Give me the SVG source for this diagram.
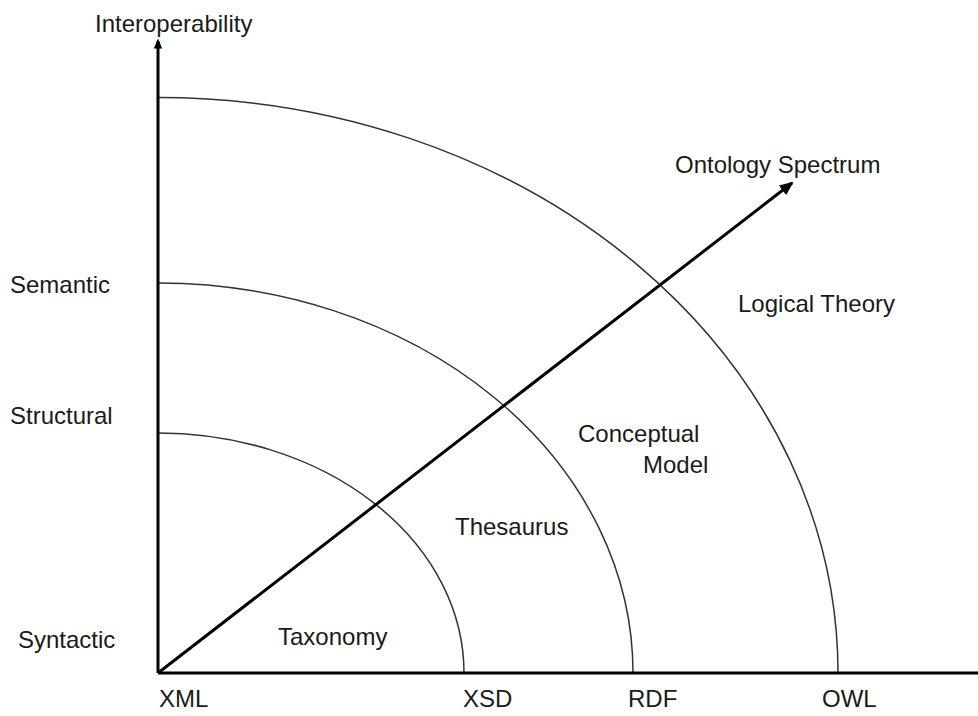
<svg xmlns="http://www.w3.org/2000/svg" width="978" height="716" viewBox="0 0 978 716">
  <style>
    text { font-family: "Liberation Sans", Arial, sans-serif; font-size: 24px; fill: #1a1a1a; }
    .axis { stroke: #000; stroke-width: 3; fill: none; }
    .arc { stroke: #333; stroke-width: 1.5; fill: none; }
    .spectrum { stroke: #000; stroke-width: 3; fill: none; }
  </style>
  <defs>
    <marker id="head" markerWidth="10" markerHeight="12" refX="9" refY="5" orient="auto" markerUnits="userSpaceOnUse" viewBox="0 0 12 10">
      <path d="M0,0 L12,5 L0,10 Z" fill="#000"/>
    </marker>
    <marker id="headLg" markerWidth="14" markerHeight="12" refX="12" refY="6" orient="auto" markerUnits="userSpaceOnUse" viewBox="0 0 14 12">
      <path d="M0,0 L14,6 L0,12 Z" fill="#000"/>
    </marker>
  </defs>

  <!-- quarter-ellipse bands centred on the origin (158,673) -->
  <g id="bands">
    <path id="band-taxonomy" class="arc" d="M158,433 A306,240 0 0 1 464,673"/>
    <path id="band-thesaurus" class="arc" d="M158,283 A475,390 0 0 1 633,673"/>
    <path id="band-logical" class="arc" d="M158,97.5 A680,575.5 0 0 1 838,673"/>
  </g>

  <g id="connectors">
    <line class="axis" x1="158" y1="673" x2="978" y2="673"/>
    <line class="axis" x1="158" y1="673" x2="158" y2="41" marker-end="url(#head)"/>
    <line class="spectrum" x1="158" y1="673" x2="792" y2="183" marker-end="url(#headLg)"/>
  </g>

  <g id="axis-labels">
    <text x="95" y="32">Interoperability</text>
    <text x="675" y="173">Ontology Spectrum</text>
    <text x="10" y="293">Semantic</text>
    <text x="10" y="424">Structural</text>
    <text x="18" y="648">Syntactic</text>
    <text x="159" y="707">XML</text>
    <text x="463" y="707">XSD</text>
    <text x="628" y="707">RDF</text>
    <text x="822" y="707">OWL</text>
  </g>

  <g id="node-taxonomy"><text x="278" y="645">Taxonomy</text></g>
  <g id="node-thesaurus"><text x="455" y="535">Thesaurus</text></g>
  <g id="node-conceptual-model">
    <text x="578" y="442">Conceptual</text>
    <text x="643" y="473">Model</text>
  </g>
  <g id="node-logical-theory"><text x="738" y="312">Logical Theory</text></g>
</svg>
